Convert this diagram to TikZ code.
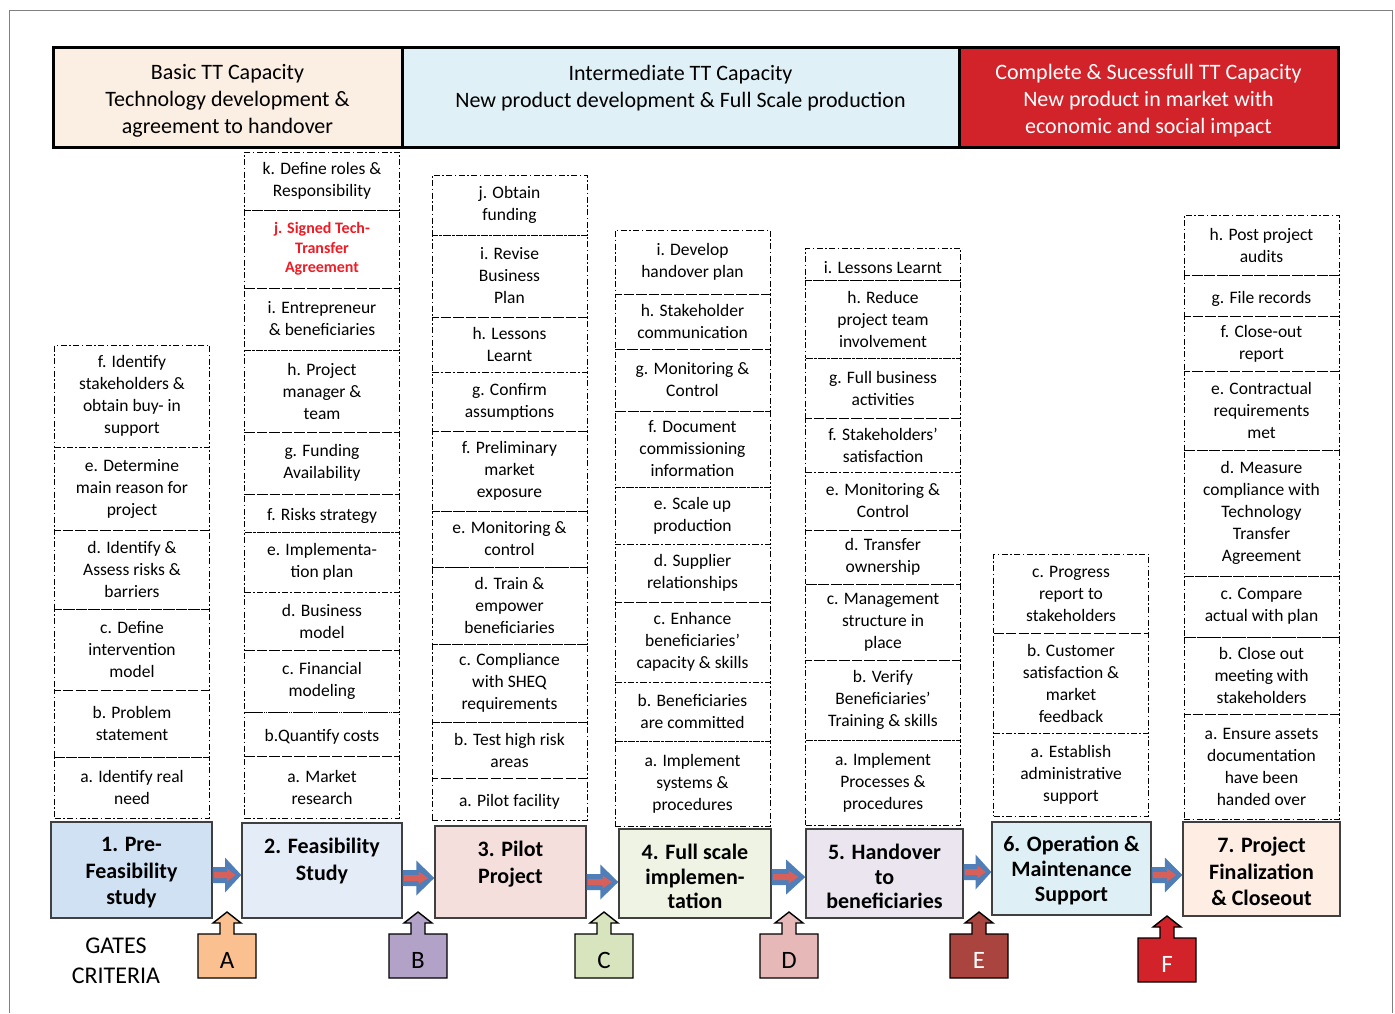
\documentclass[tikz,border=0pt]{standalone}
\usepackage{fontspec}
\setmainfont{Carlito}
\usetikzlibrary{calc}

\definecolor{hpeach}{HTML}{FBEEE2}
\definecolor{hblue}{HTML}{DFF1F7}
\definecolor{hred}{HTML}{D2232A}
\definecolor{ph1}{HTML}{CFE1F3}
\definecolor{ph2}{HTML}{E4ECF7}
\definecolor{ph3}{HTML}{F5DFDD}
\definecolor{ph4}{HTML}{EEF3E3}
\definecolor{ph5}{HTML}{EAE5EE}
\definecolor{ph6}{HTML}{DEF0F6}
\definecolor{ph7}{HTML}{FDEDE3}
\definecolor{arrblue}{HTML}{4F7EB8}
\definecolor{arrred}{HTML}{D7605A}
\definecolor{gateA}{HTML}{FAC090}
\definecolor{gateB}{HTML}{B3A2C7}
\definecolor{gateC}{HTML}{D7E4BD}
\definecolor{gateD}{HTML}{E6B9B8}
\definecolor{gateE}{HTML}{A9443F}
\definecolor{gateF}{HTML}{D2232A}
\definecolor{jred}{HTML}{EE1C25}

\tikzset{
  sub/.style={draw, dash pattern=on 6pt off 2.5pt on 1.5pt off 2.5pt, line width=0.9pt,
    minimum width=155, align=center, inner sep=0pt, font=\fontsize{17.5}{22}\selectfont,
    execute at begin node={\rule{0pt}{18.5pt}}},
  head/.style={draw, line width=3pt, inner sep=0pt, align=center, minimum height=100,
    font=\fontsize{22}{27}\selectfont},
  phase/.style={draw=black!75, line width=1.4pt, inner sep=0pt},
  phasetxt/.style={align=center, inner sep=0pt, anchor=north,
    font=\fontsize{22}{26.5}\selectfont\bfseries},
}

\begin{document}
\begin{tikzpicture}[x=1pt,y=-1pt]
\useasboundingbox (0,0) rectangle (1395,1013);
\draw[black!50, line width=1pt] (9,1013) -- (9,10) -- (1392,10) -- (1392,1013);

% capacity levels
\node[head, fill=hpeach, minimum width=349] (h1) at (227.5,97) {\rule{0pt}{23.5pt}Basic TT Capacity\\Technology development \&\\agreement to handover};
\node[head, fill=hblue, minimum width=557] (h2) at (680.5,97) {\rule{0pt}{21pt}Intermediate TT Capacity\\New product development \& Full Scale production\\\mbox{}};
\node[head, fill=hred, text=white, minimum width=379] (h3) at (1148.5,97) {\rule{0pt}{23.5pt}Complete \& Sucessfull TT Capacity\\New product in market with\\economic and social impact};

% 1. pre-feasibility
\node[sub, minimum height=102] (s1f) at (132,396) {f. Identify\\stakeholders \&\\obtain buy- in\\support};
\node[sub, minimum height=83] (s1e) at (132,488.5) {e. Determine\\main reason for\\project};
\node[sub, minimum height=79] (s1d) at (132,569.5) {d. Identify \&\\Assess risks \&\\barriers};
\node[sub, minimum height=81] (s1c) at (132,649.5) {c. Define\\intervention\\model};
\node[sub, minimum height=67] (s1b) at (132,723.5) {b. Problem\\statement};
\node[sub, minimum height=61] (s1a) at (132,787.5) {a. Identify real\\need};

% 2. feasibility
\node[sub, minimum height=58] (s2k) at (322,181) {k. Define roles \&\\Responsibility};
\node[sub, minimum height=78, text=jred, font=\fontsize{16}{19.5}\selectfont\bfseries] (s2j) at (322,249) {j. Signed Tech-\\Transfer\\Agreement};
\node[sub, minimum height=62] (s2i) at (322,319) {i. Entrepreneur\\\& beneficiaries};
\node[sub, minimum height=82] (s2h) at (322,391) {h. Project\\manager \&\\team};
\node[sub, minimum height=62] (s2g) at (322,463) {g. Funding\\Availability};
\node[sub, minimum height=38] (s2f) at (322,513) {f. Risks strategy};
\node[sub, minimum height=60] (s2e) at (322,562) {e. Implementa-\\tion plan};
\node[sub, minimum height=58] (s2d) at (322,621) {d. Business\\model};
\node[sub, minimum height=62] (s2c) at (322,681) {c. Financial\\modeling};
\node[sub, minimum height=44] (s2b) at (322,734) {b.Quantify costs};
\node[sub, minimum height=62] (s2a) at (322,787) {a. Market\\research};

% 3. pilot
\node[sub, minimum height=60] (s3j) at (509.5,205) {j. Obtain\\funding};
\node[sub, minimum height=82] (s3i) at (509.5,276) {i. Revise\\Business\\Plan};
\node[sub, minimum height=55] (s3h) at (509.5,344.5) {h. Lessons\\Learnt};
\node[sub, minimum height=59] (s3g) at (509.5,401.5) {g. Confirm\\assumptions};
\node[sub, minimum height=80] (s3f) at (509.5,471) {f. Preliminary\\market\\exposure};
\node[sub, minimum height=56] (s3e) at (509.5,539) {e. Monitoring \&\\control};
\node[sub, minimum height=77] (s3d) at (509.5,605.5) {d. Train \&\\empower\\beneficiaries};
\node[sub, minimum height=78] (s3c) at (509.5,683) {c. Compliance\\with SHEQ\\requirements};
\node[sub, minimum height=56] (s3b) at (509.5,750) {b. Test high risk\\areas};
\node[sub, minimum height=42] (s3a) at (509.5,799) {a. Pilot facility};

% 4. full scale
\node[sub, minimum height=64] (s4i) at (692.5,262) {i. Develop\\handover plan};
\node[sub, minimum height=55] (s4h) at (692.5,321.5) {h. Stakeholder\\communication};
\node[sub, minimum height=62] (s4g) at (692.5,380) {g. Monitoring \&\\Control};
\node[sub, minimum height=76] (s4f) at (692.5,449) {f. Document\\commissioning\\information};
\node[sub, minimum height=57] (s4e) at (692.5,515.5) {e. Scale up\\production};
\node[sub, minimum height=58] (s4d) at (692.5,573) {d. Supplier\\relationships};
\node[sub, minimum height=80] (s4c) at (692.5,642) {c. Enhance\\beneficiaries’\\capacity \& skills};
\node[sub, minimum height=59] (s4b) at (692.5,711.5) {b. Beneficiaries\\are committed};
\node[sub, minimum height=85] (s4a) at (692.5,783.5) {a. Implement\\systems \&\\procedures};

% 5. handover
\node[sub, minimum height=32] (s5i) at (883,264) {i. Lessons Learnt};
\node[sub, minimum height=78] (s5h) at (883,319) {h. Reduce\\project team\\involvement};
\node[sub, minimum height=60] (s5g) at (883,388) {g. Full business\\activities};
\node[sub, minimum height=54] (s5f) at (883,445) {f. Stakeholders'\\satisfaction};
\node[sub, minimum height=58] (s5e) at (883,501) {e. Monitoring \&\\Control};
\node[sub, minimum height=54] (s5d) at (883,557) {d. Transfer\\ownership};
\node[sub, minimum height=76] (s5c) at (883,622) {c. Management\\structure in\\place};
\node[sub, minimum height=80] (s5b) at (883,700) {b. Verify\\Beneficiaries'\\Training \& skills};
\node[sub, minimum height=85] (s5a) at (883,782.5) {a. Implement\\Processes \&\\procedures};

% 6. operation
\node[sub, minimum height=79] (s6c) at (1071,593.5) {c. Progress\\report to\\stakeholders};
\node[sub, minimum height=100] (s6b) at (1071,683) {b. Customer\\satisfaction \&\\market\\feedback};
\node[sub, minimum height=83] (s6a) at (1071,774.5) {a. Establish\\administrative\\support};

% 7. closeout
\node[sub, minimum height=60] (s7h) at (1261.5,245) {h. Post project\\audits};
\node[sub, minimum height=41] (s7g) at (1261.5,295.5) {g. File records};
\node[sub, minimum height=55] (s7f) at (1261.5,343.5) {f. Close-out\\report};
\node[sub, minimum height=79] (s7e) at (1261.5,410.5) {e. Contractual\\requirements\\met};
\node[sub, minimum height=126] (s7d) at (1261.5,513) {d. Measure\\compliance with\\Technology\\Transfer\\Agreement};
\node[sub, minimum height=61] (s7c) at (1261.5,606.5) {c. Compare\\actual with plan};
\node[sub, minimum height=77] (s7b) at (1261.5,675.5) {b. Close out\\meeting with\\stakeholders};
\node[sub, minimum height=105] (s7a) at (1261.5,766.5) {a. Ensure assets\\documentation\\have been\\handed over};

% phases
\node[phase, fill=ph1, minimum width=161, minimum height=96] (p1) at (131.5,870) {};
\node[phase, fill=ph2, minimum width=160, minimum height=95] (p2) at (322,870.5) {};
\node[phase, fill=ph3, minimum width=151, minimum height=92] (p3) at (510.5,872) {};
\node[phase, fill=ph4, minimum width=152, minimum height=89] (p4) at (695,873.5) {};
\node[phase, fill=ph5, minimum width=157, minimum height=89] (p5) at (884.5,873.5) {};
\node[phase, fill=ph6, minimum width=159, minimum height=93] (p6) at (1071.5,868.5) {};
\node[phase, fill=ph7, minimum width=157, minimum height=94] (p7) at (1261.5,869) {};
\node[phasetxt] (t1) at ($(p1.north)+(0,16)$) {1. Pre-\\Feasibility\\study};
\node[phasetxt] (t2) at ($(p2.north)+(0,16)$) {2. Feasibility\\Study};
\node[phasetxt] (t3) at ($(p3.north)+(0,16)$) {3. Pilot\\Project};
\node[phasetxt, font=\fontsize{22}{24.5}\selectfont\bfseries] (t4) at ($(p4.north)+(0,16)$) {4. Full scale\\implemen-\\tation};
\node[phasetxt, font=\fontsize{22}{24.5}\selectfont\bfseries] (t5) at ($(p5.north)+(0,16)$) {5. Handover\\to\\beneficiaries};
\node[phasetxt, font=\fontsize{22}{25}\selectfont\bfseries] (t6) at ($(p6.north)+(0,15)$) {6. Operation \&\\Maintenance\\Support};
\node[phasetxt] (t7) at ($(p7.north)+(0,16)$) {7. Project\\Finalization\\\& Closeout};

% block arrows between phases
\foreach \a/\b/\h in {p1/p2/875, p2/p3/878, p3/p4/882, p4/p5/877, p5/p6/872, p6/p7/875} {
  \coordinate (as) at (\a.east |- 0,\h);
  \coordinate (ae) at (\b.west |- 0,\h);
  \fill[arrblue] ($(as)+(0,-8)$) -- ($(as)!.43!(ae)+(0,-8)$) -- ($(as)!.43!(ae)+(0,-17.5)$)
    -- (ae) -- ($(as)!.43!(ae)+(0,17.5)$) -- ($(as)!.43!(ae)+(0,8)$) -- ($(as)+(0,8)$) -- cycle;
  \fill[arrred] ($(as)!.04!(ae)+(0,-3)$) -- ($(as)!.5!(ae)+(0,-3)$) -- ($(as)!.5!(ae)+(0,-6.5)$)
    -- ($(as)!.8!(ae)$) -- ($(as)!.5!(ae)+(0,6.5)$) -- ($(as)!.5!(ae)+(0,3)$) -- ($(as)!.04!(ae)+(0,3)$) -- cycle;
}

% gates
\node[align=center, inner sep=0pt, font=\fontsize{24}{30}\selectfont] (gates) at (116,961) {GATES\\CRITERIA};
\foreach \g/\cx/\dy/\tc in {A/227/0/black, B/418/0/black, C/604/0/black, D/789/0/black, E/979/0/white, F/1167/4/white} {
  \filldraw[fill=gate\g, line width=1.4pt, line join=miter]
    (\cx-29,978+\dy) -- (\cx-29,934+\dy) -- (\cx-7,934+\dy) -- (\cx-7,923+\dy) -- (\cx-14,923+\dy)
    -- (\cx,912+\dy) -- (\cx+14,923+\dy) -- (\cx+7,923+\dy) -- (\cx+7,934+\dy) -- (\cx+29,934+\dy)
    -- (\cx+29,978+\dy) -- cycle;
  \node[inner sep=0pt, text=\tc, font=\fontsize{25}{25}\selectfont] (g\g) at (\cx,960+\dy) {\g};
}
\end{tikzpicture}
\end{document}
